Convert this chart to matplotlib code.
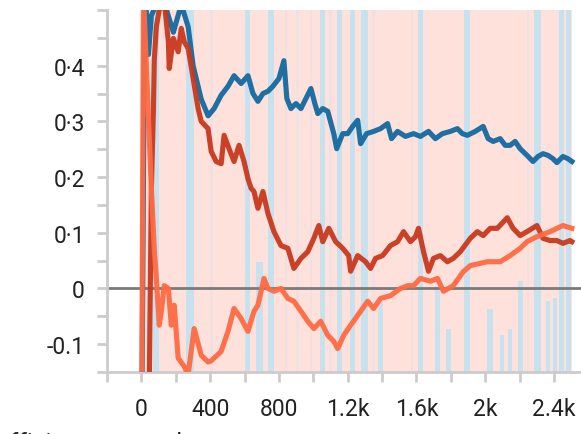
import matplotlib
matplotlib.use("Agg")
import matplotlib.pyplot as plt
import numpy as np

# ---------------- data ----------------
blue_x = [0, 20, 41, 58, 116, 186, 232, 272, 301, 348, 388, 423, 464, 504, 539, 580, 620, 649, 678,
          707, 736, 765, 800, 829, 846, 870, 899, 928, 957, 986, 1009, 1026, 1055, 1084, 1119, 1136,
          1171, 1200, 1229, 1258, 1275, 1310, 1351, 1391, 1432, 1455, 1490, 1536, 1583, 1623, 1670,
          1710, 1751, 1797, 1838, 1867, 1896, 1942, 1988, 2017, 2046, 2087, 2116, 2145, 2174, 2203,
          2243, 2278, 2307, 2336, 2365, 2394, 2417, 2452, 2481, 2504]
blue_y = [-0.35, 0.55, 0.42, 0.49, 0.53, 0.46, 0.51, 0.47, 0.40, 0.34, 0.31, 0.323, 0.347, 0.363, 0.382,
          0.368, 0.382, 0.35, 0.336, 0.35, 0.354, 0.363, 0.377, 0.409, 0.341, 0.323, 0.332, 0.323, 0.341,
          0.359, 0.332, 0.314, 0.323, 0.318, 0.278, 0.251, 0.278, 0.278, 0.291, 0.302, 0.26, 0.278,
          0.282, 0.287, 0.296, 0.269, 0.282, 0.273, 0.278, 0.273, 0.282, 0.269, 0.278, 0.282, 0.287,
          0.278, 0.275, 0.282, 0.291, 0.269, 0.264, 0.269, 0.257, 0.257, 0.264, 0.251, 0.239, 0.228,
          0.237, 0.242, 0.239, 0.233, 0.226, 0.237, 0.233, 0.228]

red_x = [0, 45, 58, 70, 75, 87, 104, 128, 157, 162, 186, 214, 232, 249, 272, 301, 330, 348, 388, 406,
         435, 464, 481, 510, 539, 568, 597, 620, 638, 655, 678, 707, 736, 771, 812, 852, 887, 928, 968,
         1003, 1032, 1055, 1090, 1130, 1171, 1206, 1217, 1258, 1304, 1333, 1362, 1403, 1449, 1490,
         1525, 1565, 1594, 1612, 1641, 1670, 1699, 1739, 1780, 1814, 1855, 1913, 1954, 1988, 2029,
         2070, 2128, 2162, 2203, 2243, 2301, 2336, 2377, 2417, 2452, 2493, 2504]
red_y = [-0.35, -0.2, 0.18, 0.32, 0.41, 0.47, 0.50, 0.53, 0.443, 0.395, 0.449, 0.425, 0.467, 0.443,
         0.431, 0.377, 0.323, 0.30, 0.287, 0.246, 0.228, 0.224, 0.275, 0.251, 0.228, 0.257, 0.228,
         0.197, 0.18, 0.174, 0.144, 0.174, 0.135, 0.102, 0.077, 0.072, 0.036, 0.054, 0.066, 0.09,
         0.113, 0.084, 0.108, 0.084, 0.072, 0.059, 0.031, 0.059, 0.048, 0.036, 0.054, 0.059, 0.077,
         0.084, 0.102, 0.084, 0.093, 0.108, 0.066, 0.031, 0.054, 0.059, 0.048, 0.054, 0.066, 0.09,
         0.102, 0.095, 0.108, 0.108, 0.127, 0.108, 0.095, 0.102, 0.113, 0.09, 0.086, 0.086, 0.081,
         0.086, 0.084]

orange_x = [0, 12, 25, 55, 75, 87, 104, 116, 133, 157, 174, 191, 214, 249, 272, 307, 348, 388, 406,
            464, 504, 539, 580, 620, 655, 678, 713, 736, 771, 812, 852, 887, 928, 968, 1003, 1043,
            1084, 1119, 1142, 1177, 1217, 1275, 1316, 1351, 1391, 1449, 1507, 1548, 1583, 1623, 1681,
            1722, 1757, 1814, 1872, 1913, 2012, 2087, 2145, 2203, 2243, 2301, 2377, 2452, 2504]
orange_y = [-0.35, 0.53, 0.43, 0.20, 0.07, 0.018, -0.066, -0.041, 0.005, 0.0, -0.066, -0.03, -0.125,
            -0.14, -0.155, -0.072, -0.12, -0.132, -0.13, -0.113, -0.077, -0.036, -0.054, -0.077,
            -0.041, -0.03, 0.018, 0.0, -0.005, 0.0, -0.018, -0.023, -0.041, -0.059, -0.072, -0.059,
            -0.084, -0.095, -0.108, -0.084, -0.066, -0.041, -0.023, -0.036, -0.018, -0.013, 0.0,
            0.005, 0.005, 0.018, 0.013, 0.018, -0.005, 0.005, 0.03, 0.041, 0.048, 0.048, 0.059,
            0.072, 0.084, 0.093, 0.102, 0.113, 0.108]

# background stripes: position, upper reach, width
stripe_x = [84, 281, 617, 687, 754, 1052, 1151, 1226, 1296, 1391, 1623, 1722, 1786, 1893, 2029,
            2099, 2145, 2203, 2304, 2365, 2406, 2443, 2484]
stripe_top = [0.5, 0.5, 0.5, 0.048, 0.5, 0.5, 0.5, 0.5, 0.5, -0.023, 0.5, 0.005, -0.072, 0.5,
              -0.036, -0.084, -0.072, 0.013, 0.5, -0.023, -0.018, 0.5, 0.5]
stripe_w = [35, 45, 28, 40, 32, 28, 28, 28, 40, 32, 28, 24, 24, 32, 32, 24, 24, 28, 36, 24, 24, 28, 28]
faint_x = [406, 841, 907, 986, 1101, 1351, 1574, 2249]

ytick_vals = [-0.1, 0, 0.1, 0.2, 0.3, 0.4]
ytick_labels = ["-0.1", "0", "0·1", "0·2", "0·3", "0·4"]
xtick_vals = [0, 400, 800, 1200, 1600, 2000, 2400]
xtick_labels = ["0", "400", "800", "1.2k", "1.6k", "2k", "2.4k"]
footer = "efficiency rewards"

# ---------------- plot ----------------
plt.rcParams['font.family'] = ['Roboto', 'DejaVu Sans']
fig = plt.figure(figsize=(5.81, 4.35), dpi=100)
ax = fig.add_axes([107 / 581, 62 / 435, 1 - 107 / 581, (373 - 11) / 435])

ymin, ymax = -0.15, 0.5
ax.set_xlim(-195, 2557)
ax.set_ylim(ymin, ymax)

ax.axvspan(min(blue_x), max(blue_x), color="#fde1da", zorder=0, lw=0)
ax.bar(faint_x, ymax - ymin, bottom=ymin, width=16, color="#f0e0e3", zorder=1, lw=0)
ax.bar(stripe_x, np.array(stripe_top) - ymin, bottom=ymin, width=stripe_w,
       color="#c8e1ee", zorder=1, lw=0)

ax.axhline(0, color="#7a7a7a", lw=2, zorder=2)

ax.plot(blue_x, blue_y, color="#1f6fa3", lw=3.7, zorder=3)
ax.plot(red_x, red_y, color="#c9381d", lw=3.7, zorder=4, alpha=0.95)
ax.plot(orange_x, orange_y, color="#ff6a42", lw=3.7, zorder=5, alpha=0.95)

for s in ["top", "right"]:
    ax.spines[s].set_visible(False)
for s in ["left", "bottom"]:
    ax.spines[s].set_color("#cccccc")
    ax.spines[s].set_linewidth(2)

ax.set_yticks(ytick_vals)
ax.set_yticklabels(ytick_labels)
ax.set_yticks(np.arange(-0.15, 0.51, 0.05), minor=True)
ax.set_xticks(xtick_vals)
ax.set_xticklabels(xtick_labels)
ax.set_xticks(np.arange(-200, 2600, 200), minor=True)

ax.tick_params(axis="both", which="both", color="#cccccc", width=2, length=7, labelsize=16.5,
               labelcolor="#222222")
ax.tick_params(axis="y", pad=9)
ax.tick_params(axis="x", pad=11)

fig.text(-3 / 581, -0.034, footer, fontsize=17.5, color="#222222", va="baseline", ha="left")

fig.savefig("out.png", dpi=100)
